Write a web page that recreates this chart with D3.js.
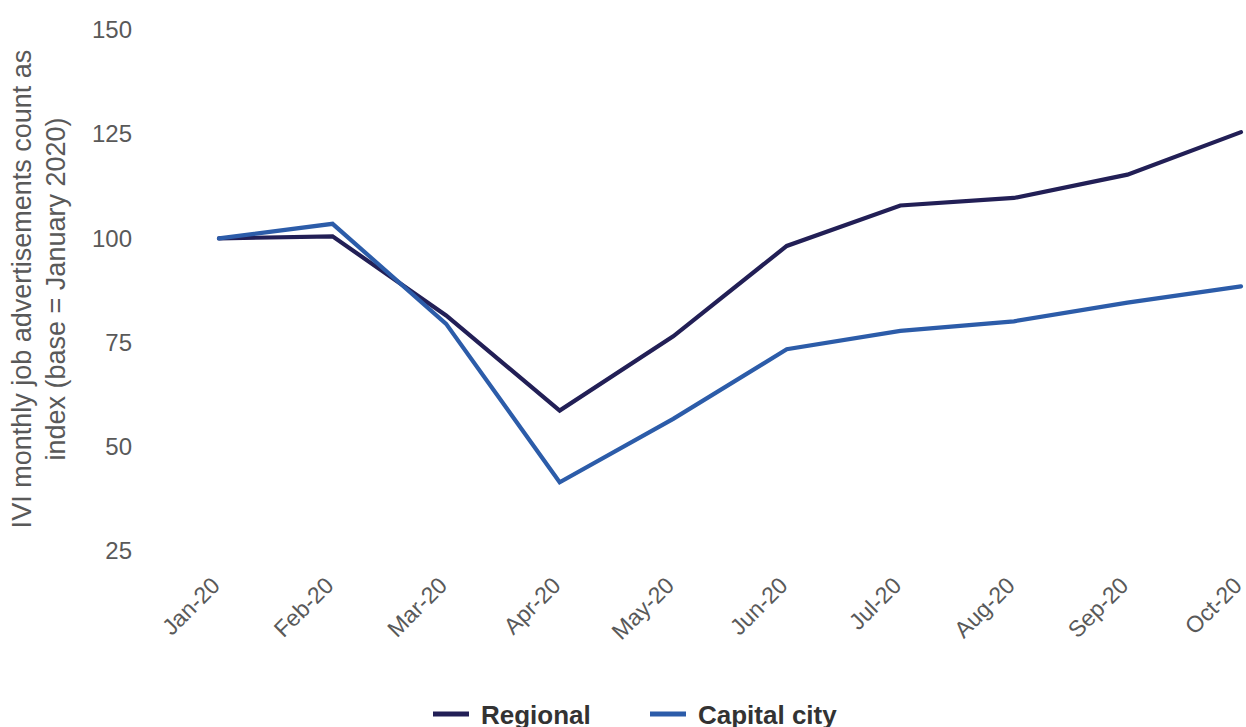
<!DOCTYPE html>
<html>
<head>
<meta charset="utf-8">
<script src="https://cdn.jsdelivr.net/npm/d3@7"></script>
<style>
  html, body { margin: 0; padding: 0; background: #ffffff; }
  svg { display: block; font-family: "Liberation Sans", Arial, sans-serif; }
</style>
</head>
<body>
<svg id="chart" width="1246" height="727"></svg>
<script>
const months = ["Jan-20","Feb-20","Mar-20","Apr-20","May-20","Jun-20","Jul-20","Aug-20","Sep-20","Oct-20"];
const regional = [100, 100.5, 81.5, 58.7, 76.5, 98.2, 107.9, 109.7, 115.3, 125.5];
const capital  = [100, 103.5, 79.5, 41.5, 56.7, 73.4, 77.8, 80.1, 84.6, 88.5];
const yTicks = [25, 50, 75, 100, 125, 150];
const seriesNames = ["Regional", "Capital city"];
const seriesColors = ["#221f56", "#2c5ca9"];

const svg = d3.select("#chart");
const x = d3.scalePoint().domain(months).range([219, 1241]);
const y = d3.scaleLinear().domain([25, 150]).range([551, 30]);

// Y axis labels
const yAxis = d3.axisLeft(y).tickValues(yTicks).tickSize(0).tickPadding(0);
const gy = svg.append("g").attr("transform", "translate(132,0)").call(yAxis);
gy.select(".domain").remove();
gy.selectAll("text")
  .attr("font-family", "Liberation Sans, Arial, sans-serif")
  .attr("font-size", 24).attr("fill", "#595959");

// X axis labels
const xAxis = d3.axisBottom(x).tickSize(0).tickPadding(0);
const gx = svg.append("g").attr("transform", "translate(0,582)").call(xAxis);
gx.select(".domain").remove();
gx.selectAll("text")
  .attr("font-family", "Liberation Sans, Arial, sans-serif")
  .attr("font-size", 23).attr("fill", "#595959")
  .attr("text-anchor", "end")
  .attr("dy", "0.3em")
  .attr("transform", "translate(-3,0) rotate(-45)");

// Y axis title
const title = svg.append("text")
  .attr("transform", "translate(0,289) rotate(-90)")
  .attr("text-anchor", "middle")
  .attr("font-size", 27).attr("fill", "#595959");
title.append("tspan").attr("x", 0).attr("y", 31).text("IVI monthly job advertisements count as");
title.append("tspan").attr("x", 0).attr("y", 65).text("index (base = January 2020)");

// Lines
const line = d3.line().x((d, i) => x(months[i])).y(d => y(d));
[regional, capital].forEach((s, k) => {
  svg.append("path").datum(s)
    .attr("d", line)
    .attr("fill", "none")
    .attr("stroke", seriesColors[k])
    .attr("stroke-width", 4.2)
    .attr("stroke-linejoin", "miter")
    .attr("stroke-linecap", "round");
});

// Legend
const legendX = [433, 650];
seriesNames.forEach((name, k) => {
  const g = svg.append("g").attr("transform", `translate(${legendX[k]},714)`);
  g.append("line").attr("x1", 0).attr("x2", 36).attr("y1", 0).attr("y2", 0)
    .attr("stroke", seriesColors[k]).attr("stroke-width", 5);
  g.append("text").attr("x", 48).attr("y", 9.5)
    .attr("font-size", 26).attr("font-weight", "bold").attr("fill", "#333333")
    .text(name);
});
</script>
</body>
</html>
